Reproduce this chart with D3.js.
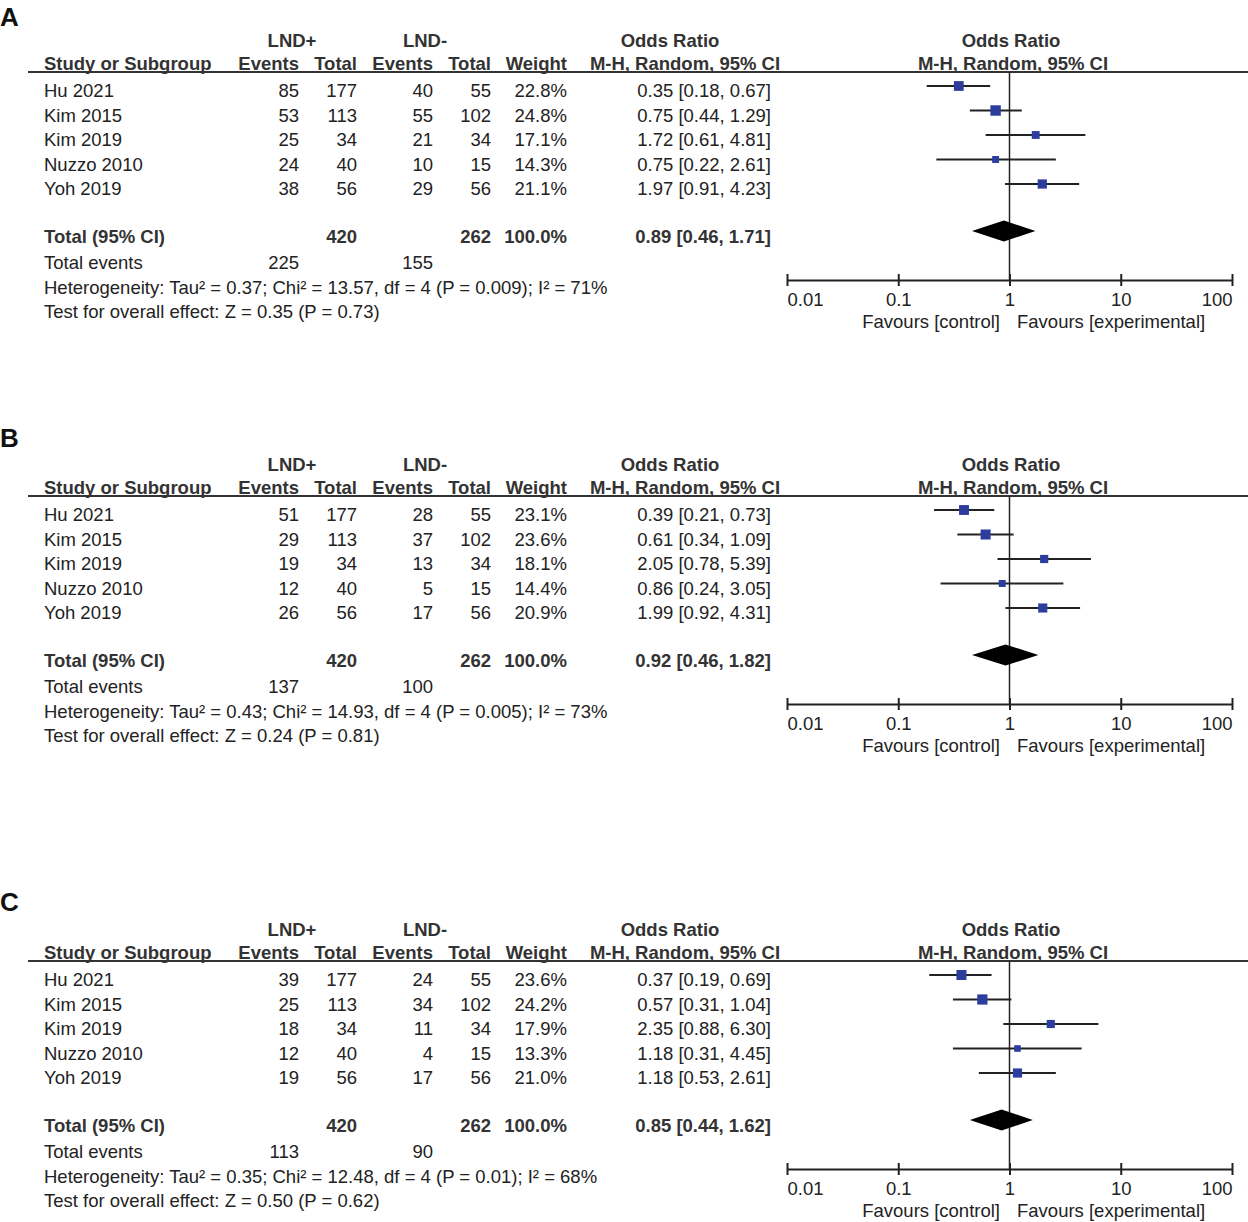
<!DOCTYPE html>
<html>
<head>
<meta charset="utf-8">
<script src="https://cdn.jsdelivr.net/npm/d3@7"></script>
<style>
  body { margin: 0; background: #fff; }
  text { font-family: "Liberation Sans", Arial, sans-serif; font-size: 18.5px; fill: #222; }
  .bold { font-weight: bold; fill: #333; }
</style>
</head>
<body>
<svg id="chart"></svg>
<script>
// Data, one entry per panel (A, B, C)
const panels = ['A', 'B', 'C'];
const studies = ['Hu 2021', 'Kim 2015', 'Kim 2019', 'Nuzzo 2010', 'Yoh 2019'];
const plusEvents = [[85, 53, 25, 24, 38], [51, 29, 19, 12, 26], [39, 25, 18, 12, 19]];
const plusTotal = [177, 113, 34, 40, 56];
const minusEvents = [[40, 55, 21, 10, 29], [28, 37, 13, 5, 17], [24, 34, 11, 4, 17]];
const minusTotal = [55, 102, 34, 15, 56];
const weights = [[22.8, 24.8, 17.1, 14.3, 21.1], [23.1, 23.6, 18.1, 14.4, 20.9], [23.6, 24.2, 17.9, 13.3, 21.0]];
const oddsRatio = [[0.35, 0.75, 1.72, 0.75, 1.97], [0.39, 0.61, 2.05, 0.86, 1.99], [0.37, 0.57, 2.35, 1.18, 1.18]];
const ciLow = [[0.18, 0.44, 0.61, 0.22, 0.91], [0.21, 0.34, 0.78, 0.24, 0.92], [0.19, 0.31, 0.88, 0.31, 0.53]];
const ciHigh = [[0.67, 1.29, 4.81, 2.61, 4.23], [0.73, 1.09, 5.39, 3.05, 4.31], [0.69, 1.04, 6.30, 4.45, 2.61]];
const pooledOR = [0.89, 0.92, 0.85];
const pooledLow = [0.46, 0.46, 0.44];
const pooledHigh = [1.71, 1.82, 1.62];
const totalEventsPlus = [225, 137, 113];
const totalEventsMinus = [155, 100, 90];
const heterogeneity = [
  'Heterogeneity: Tau² = 0.37; Chi² = 13.57, df = 4 (P = 0.009); I² = 71%',
  'Heterogeneity: Tau² = 0.43; Chi² = 14.93, df = 4 (P = 0.005); I² = 73%',
  'Heterogeneity: Tau² = 0.35; Chi² = 12.48, df = 4 (P = 0.01); I² = 68%'
];
const overallEffect = [
  'Test for overall effect: Z = 0.35 (P = 0.73)',
  'Test for overall effect: Z = 0.24 (P = 0.81)',
  'Test for overall effect: Z = 0.50 (P = 0.62)'
];
const axisTicks = [0.01, 0.1, 1, 10, 100];

const width = 1248;
const height = 1222;
const panelTop = [0, 424, 889];
const letterY = [26, 447, 911];

// column right edges
const col = { study: 44, ev1: 299, tot1: 357, ev2: 433, tot2: 491, weight: 567, or: 771 };

const svg = d3.select('#chart')
  .attr('width', width)
  .attr('height', height);

const x = d3.scaleLog().domain([0.01, 100]).range([787, 1232]);
const boxSize = d3.scaleLinear().domain([13, 25]).range([6.5, 10.5]);
const fmt2 = d3.format('.2f');
const ciText = (o, l, h) => `${fmt2(o)} [${fmt2(l)}, ${fmt2(h)}]`;

const rowY = i => 97 + i * 24.5;

panels.forEach((name, p) => {
  svg.append('text').attr('class', 'bold')
    .attr('x', 0).attr('y', letterY[p])
    .style('font-size', '26px').style('fill', '#111')
    .text(name);

  const g = svg.append('g').attr('transform', `translate(0, ${panelTop[p]})`);

  const txt = (xx, yy, s, anchor = 'end', bold = false) =>
    g.append('text').attr('x', xx).attr('y', yy)
      .attr('text-anchor', anchor)
      .attr('class', bold ? 'bold' : null)
      .text(s);

  // headers
  txt(292, 47, 'LND+', 'middle', true);
  txt(425, 47, 'LND-', 'middle', true);
  txt(670, 47, 'Odds Ratio', 'middle', true);
  txt(1011, 47, 'Odds Ratio', 'middle', true);
  txt(col.study, 70, 'Study or Subgroup', 'start', true);
  txt(col.ev1, 70, 'Events', 'end', true);
  txt(col.tot1, 70, 'Total', 'end', true);
  txt(col.ev2, 70, 'Events', 'end', true);
  txt(col.tot2, 70, 'Total', 'end', true);
  txt(col.weight, 70, 'Weight', 'end', true);
  txt(685, 70, 'M-H, Random, 95% CI', 'middle', true);
  txt(1013, 70, 'M-H, Random, 95% CI', 'middle', true);

  g.append('line')
    .attr('x1', 28).attr('x2', width)
    .attr('y1', 72).attr('y2', 72)
    .attr('stroke', '#333').attr('stroke-width', 2);

  // study rows
  studies.forEach((s, i) => {
    const y = rowY(i);
    txt(col.study, y, s, 'start');
    txt(col.ev1, y, plusEvents[p][i]);
    txt(col.tot1, y, plusTotal[i]);
    txt(col.ev2, y, minusEvents[p][i]);
    txt(col.tot2, y, minusTotal[i]);
    txt(col.weight, y, `${weights[p][i].toFixed(1)}%`);
    txt(col.or, y, ciText(oddsRatio[p][i], ciLow[p][i], ciHigh[p][i]));
  });

  // totals
  txt(col.study, 243, 'Total (95% CI)', 'start', true);
  txt(col.tot1, 243, d3.sum(plusTotal), 'end', true);
  txt(col.tot2, 243, d3.sum(minusTotal), 'end', true);
  txt(col.weight, 243, '100.0%', 'end', true);
  txt(col.or, 243, ciText(pooledOR[p], pooledLow[p], pooledHigh[p]), 'end', true);
  txt(col.study, 269, 'Total events', 'start');
  txt(col.ev1, 269, totalEventsPlus[p]);
  txt(col.ev2, 269, totalEventsMinus[p]);
  txt(col.study, 294, heterogeneity[p], 'start');
  txt(col.study, 318, overallEffect[p], 'start');

  // forest plot
  const axisY = 280;
  g.append('line')
    .attr('x1', x(1)).attr('x2', x(1))
    .attr('y1', 72).attr('y2', axisY)
    .attr('stroke', '#222').attr('stroke-width', 1.5);

  studies.forEach((s, i) => {
    const cy = rowY(i) - 11;
    g.append('line')
      .attr('x1', x(ciLow[p][i])).attr('x2', x(ciHigh[p][i]))
      .attr('y1', cy).attr('y2', cy)
      .attr('stroke', '#222').attr('stroke-width', 2);
    const sz = boxSize(weights[p][i]);
    g.append('rect')
      .attr('x', x(oddsRatio[p][i]) - sz / 2).attr('y', cy - sz / 2)
      .attr('width', sz).attr('height', sz)
      .attr('fill', '#2d3d9e');
  });

  const dy = 231;
  g.append('path')
    .attr('d', `M${x(pooledLow[p])},${dy} L${x(pooledOR[p])},${dy - 10.5} L${x(pooledHigh[p])},${dy} L${x(pooledOR[p])},${dy + 10.5} Z`)
    .attr('fill', '#000');

  const axis = g.append('g')
    .attr('transform', `translate(0, ${axisY})`)
    .call(d3.axisBottom(x).tickValues(axisTicks).tickFormat(d3.format('~g')).tickSize(6).tickSizeOuter(0));
  axis.select('.domain').attr('stroke', '#222').attr('stroke-width', 2);
  axis.selectAll('.tick line').attr('y1', -6).attr('y2', 6).attr('stroke', '#222').attr('stroke-width', 2);
  axis.selectAll('.tick text')
    .attr('y', 26).attr('dy', null)
    .style('font-size', '18.5px').style('font-family', '"Liberation Sans", Arial, sans-serif').attr('fill', '#222')
    .attr('text-anchor', (d, i) => i === 0 ? 'start' : (i === axisTicks.length - 1 ? 'end' : 'middle'));

  txt(1000, 328, 'Favours [control]', 'end');
  txt(1017, 328, 'Favours [experimental]', 'start');
});
</script>
</body>
</html>
